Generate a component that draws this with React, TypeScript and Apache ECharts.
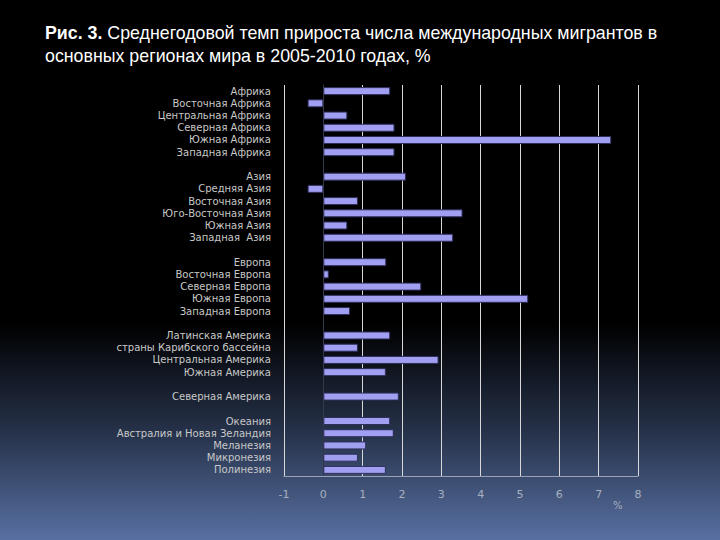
import React, { useEffect, useRef } from "react";
import * as echarts from "echarts";

const categories: string[] = [
  "Африка",
  "Восточная Африка",
  "Центральная Африка",
  "Северная Африка",
  "Южная Африка",
  "Западная Африка",
  "",
  "Азия",
  "Средняя Азия",
  "Восточная Азия",
  "Юго-Восточная Азия",
  "Южная Азия",
  "Западная  Азия",
  " ",
  "Европа",
  "Восточная Европа",
  "Северная Европа",
  "Южная Европа",
  "Западная Европа",
  "  ",
  "Латинская Америка",
  "страны Карибского бассейна",
  "Центральная Америка",
  "Южная Америка",
  "   ",
  "Северная Америка",
  "    ",
  "Океания",
  "Австралия и Новая Зеландия",
  "Меланезия",
  "Микронезия",
  "Полинезия",
];

const growthValues: (number | null)[] = [
  1.7, -0.4, 0.61, 1.81, 7.32, 1.81,
  null,
  2.1, -0.4, 0.88, 3.54, 0.61, 3.3,
  null,
  1.6, 0.14, 2.49, 5.21, 0.68,
  null,
  1.7, 0.88, 2.93, 1.59,
  null,
  1.92,
  null,
  1.7, 1.79, 1.09, 0.88, 1.59,
];

const xTicks = { min: -1, max: 8, interval: 1 };

const titleLine1 = "Среднегодовой темп прироста числа международных мигрантов в";
const titleLine2 = "основных регионах мира в 2005-2010 годах, %";

export default function App() {
  const ref = useRef<HTMLDivElement>(null);
  useEffect(() => {
    if (!ref.current) return;
    const chart = echarts.init(ref.current, null, { renderer: "svg" });
    chart.setOption({
      animation: false,
      backgroundColor: {
        type: "linear",
        x: 0,
        y: 0,
        x2: 0,
        y2: 1,
        colorStops: [
          { offset: 0, color: "#000000" },
          { offset: 0.6, color: "#000000" },
          { offset: 0.8, color: "#26324a" },
          { offset: 1, color: "#5870a2" },
        ],
      },
      title: {
        left: 40,
        top: 16,
        text: "{b|Рис. 3.} " + titleLine1 + "\n" + titleLine2,
        textStyle: {
          color: "#ffffff",
          fontFamily: "Liberation Sans, Arial, sans-serif",
          fontSize: 17.8,
          fontWeight: "normal",
          lineHeight: 23,
          rich: {
            b: {
              color: "#ffffff",
              fontFamily: "Liberation Sans, Arial, sans-serif",
              fontSize: 17.8,
              fontWeight: "bold",
              lineHeight: 23,
            },
          },
        },
      },
      grid: { left: 284, right: 82, top: 85, bottom: 64, containLabel: false },
      xAxis: {
        type: "value",
        min: xTicks.min,
        max: xTicks.max,
        interval: xTicks.interval,
        axisLine: { show: true, onZero: false, lineStyle: { color: "#9aa3b5", width: 1 } },
        axisTick: { show: false },
        axisLabel: {
          color: "#a8b0c0",
          fontSize: 11,
          margin: 13,
          fontFamily: "DejaVu Sans, sans-serif",
        },
        splitLine: { show: true, lineStyle: { color: "#d8d8d8", width: 1 } },
      },
      yAxis: {
        type: "category",
        data: categories,
        inverse: true,
        axisLine: { show: true, onZero: true, lineStyle: { color: "#333a48", width: 1 } },
        axisTick: { show: false },
        axisLabel: {
          color: "#c8c8c8",
          fontSize: 10,
          lineHeight: 11,
          fontFamily: "DejaVu Sans, sans-serif",
          margin: 13,
          interval: 0,
        },
        splitLine: { show: false },
      },
      series: [
        {
          type: "bar",
          data: growthValues,
          barWidth: 8,
          itemStyle: {
            color: "#a09ff2",
            borderColor: "#2e2e5a",
            borderWidth: 1,
          },
        },
      ],
      graphic: [
        {
          type: "text",
          left: 613,
          top: 500,
          style: {
            text: "%",
            fill: "#a8b0c0",
            fontSize: 10,
            fontFamily: "DejaVu Sans, sans-serif",
          },
        },
      ],
    });
    return () => chart.dispose();
  }, []);
  return (
    <div
      ref={ref}
      style={{ position: "absolute", left: 0, top: 0, width: 720, height: 540 }}
    />
  );
}
